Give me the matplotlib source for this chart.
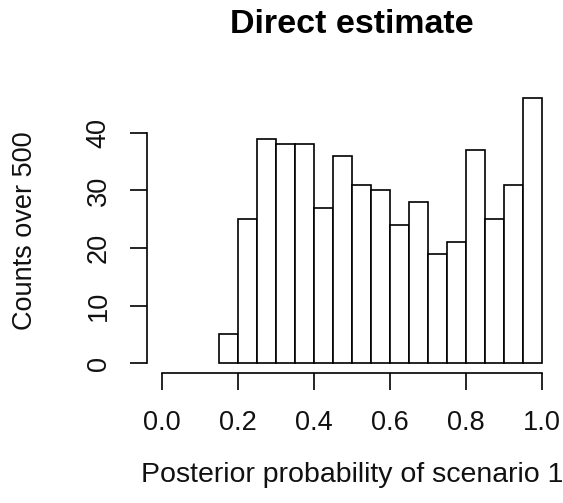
import matplotlib
matplotlib.use("Agg")
import matplotlib.pyplot as plt
import numpy as np

# Data
bin_edges = [0.15, 0.20, 0.25, 0.30, 0.35, 0.40, 0.45, 0.50, 0.55, 0.60,
             0.65, 0.70, 0.75, 0.80, 0.85, 0.90, 0.95, 1.00]
counts = [5, 25, 39, 38, 38, 27, 36, 31, 30, 24, 28, 19, 21, 37, 25, 31, 46]
x_ticks = [0.0, 0.2, 0.4, 0.6, 0.8, 1.0]
x_tick_labels = ["0.0", "0.2", "0.4", "0.6", "0.8", "1.0"]
y_ticks = [0, 10, 20, 30, 40]
y_tick_labels = ["0", "10", "20", "30", "40"]
title = "Direct estimate"
xlabel = "Posterior probability of scenario 1"
ylabel = "Counts over 500"

plt.rcParams['font.family'] = ['Liberation Sans', 'DejaVu Sans']

W, H = 563, 503
DPI = 100
fig = plt.figure(figsize=(W / DPI, H / DPI), dpi=DPI)
fig.patch.set_facecolor('white')

# axes placement in pixels
x0_px, x1_px = 161.7, 541.7
y0_px, ytop_px = 363.3, 98.3
ax = fig.add_axes([x0_px / W, 1 - y0_px / H, (x1_px - x0_px) / W, (y0_px - ytop_px) / H])
ax.set_xlim(0, 1)
ax.set_ylim(0, max(counts))
ax.patch.set_visible(False)

lw = 1.2
edges = np.array(bin_edges)
ax.bar(edges[:-1], counts, width=np.diff(edges), align='edge',
       facecolor='white', edgecolor='black', linewidth=lw, clip_on=False)

px2pt = 72.0 / DPI
for s in ['top', 'right']:
    ax.spines[s].set_visible(False)
ax.spines['left'].set_position(('outward', (x0_px - 146.7) * px2pt))
ax.spines['bottom'].set_position(('outward', (373.3 - y0_px) * px2pt))
ax.spines['left'].set_bounds(y_ticks[0], y_ticks[-1])
ax.spines['bottom'].set_bounds(x_ticks[0], x_ticks[-1])
for s in ['left', 'bottom']:
    ax.spines[s].set_linewidth(lw)
    ax.spines[s].set_color('black')

ax.set_xticks(x_ticks)
ax.set_xticklabels(x_tick_labels)
ax.set_yticks(y_ticks)
ax.set_yticklabels(y_tick_labels, rotation=90, va='center')
ax.tick_params(axis='both', direction='out', length=17 * px2pt, width=lw,
               color='black', labelsize=19.5, labelcolor='#111111')
ax.tick_params(axis='x', pad=14)
ax.tick_params(axis='y', pad=13)

fig.text(351.7 / W, 1 - 33.3 / H, title, ha='center', va='baseline',
         fontsize=24.5, fontweight='bold', color='black')
fig.text(351.7 / W, 1 - 482 / H, xlabel, ha='center', va='baseline',
         fontsize=20.5, color='#111111')
fig.text(25 / W, 1 - 230.7 / H, ylabel, ha='center', va='center',
         rotation=90, fontsize=19.5, color='#111111')

fig.savefig('out.png', dpi=DPI, facecolor='white')
